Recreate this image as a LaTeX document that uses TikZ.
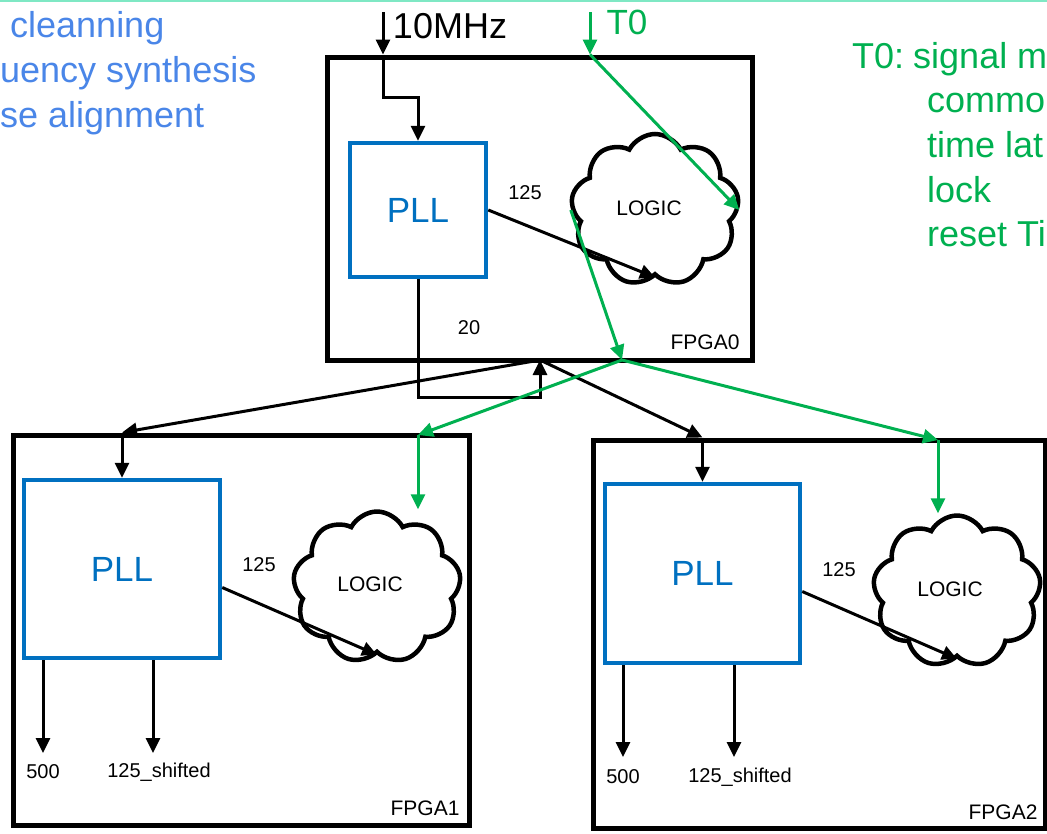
\documentclass[tikz,border=0pt]{standalone}
\usepackage{fontspec}
\setmainfont{Liberation Sans}
\usetikzlibrary{shapes.symbols,arrows.meta,calc}
\definecolor{noteblue}{HTML}{4A86E8}
\definecolor{pllblue}{HTML}{0070C0}
\definecolor{tgreen}{HTML}{00B050}
\definecolor{topline}{HTML}{7FE8C4}
\tikzset{
  fpga/.style={draw=black, line width=5pt, minimum width=#1, inner sep=0pt},
  pllbox/.style={draw=pllblue, line width=4.5pt, text=pllblue, inner sep=0pt, font=\fontsize{35}{40}\selectfont},
  logic/.style={cloud, cloud puffs=9, cloud puff arc=125, cloud ignores aspect, draw=black, line width=4.5pt, minimum width=168pt, minimum height=152pt, inner sep=0pt},
  arr/.style={draw=black, line width=3pt, -{Triangle[length=15pt,width=14pt]}},
  garr/.style={draw=tgreen, line width=3pt, -{Triangle[length=15pt,width=14pt]}},
  small/.style={font=\fontsize{20}{24}\selectfont, inner sep=0pt},
  lbl/.style={font=\fontsize{21}{24}\selectfont, inner sep=0pt},
  note/.style={font=\fontsize{36}{44}\selectfont, inner sep=0pt, anchor=base west},
}
\begin{document}
\begin{tikzpicture}[x=1pt,y=-1pt]
\useasboundingbox (0,0) rectangle (1047,833);
\clip (0,0) rectangle (1047,833);
\draw[topline, line width=2pt] (0,1) -- (1047,1);

% notes
\node[note, text=noteblue] (n1) at (10,37) {cleanning};
\node[note, text=noteblue] (n2) at (0,82) {uency synthesis};
\node[note, text=noteblue] (n3) at (0,127) {se alignment};
\node[note, text=tgreen] (m1) at (852,68) {T0:\kern0.25em signal m};
\node[note, text=tgreen] (m2) at (927,112) {commo};
\node[note, text=tgreen] (m3) at (927,157) {time lat};
\node[note, text=tgreen] (m4) at (927,202) {lock};
\node[note, text=tgreen] (m5) at (927,246) {reset Ti};

% FPGA0
\node[fpga=425pt, minimum height=303pt] (f0) at (539.5,208.5) {};
\node[pllbox, minimum width=136pt, minimum height=134pt] (p0) at (418,210) {PLL};
\node[logic] (c0) at (655,210) {};
\node[lbl] (lg0) at (649,208) {LOGIC};
\node[lbl] (fl0) at (705,342) {FPGA0};
\node[small] (q0) at (525,193) {125};
\node[small] (z0) at (469,328) {20};

% FPGA1
\node[fpga=456pt, minimum height=390pt] (f1) at (241,630) {};
\node[pllbox, minimum width=196pt, minimum height=178pt] (p1) at (122,569) {PLL};
\node[logic] (c1) at (377,587.5) {};
\node[lbl] (lg1) at (370,584) {LOGIC};
\node[lbl] (fl1) at (425,808) {FPGA1};
\node[small] (q1) at (259,565) {125};
\node[small] (u1) at (43,772) {500};
\node[small] (s1) at (159,772) {125\_shifted};

% FPGA2
\node[fpga=452pt, minimum height=388pt] (f2) at (819,634) {};
\node[pllbox, minimum width=195pt, minimum height=179pt] (p2) at (702.5,573.5) {PLL};
\node[logic] (c2) at (957,591.5) {};
\node[lbl] (lg2) at (950,589) {LOGIC};
\node[lbl] (fl2) at (1003,812) {FPGA2};
\node[small] (q2) at (839,570) {125};
\node[small] (u2) at (623,777) {500};
\node[small] (s2) at (740,777) {125\_shifted};

% top inputs
\node[font=\fontsize{36}{40}\selectfont, inner sep=0pt] (mhz) at (450,26) {10MHz};
\node[font=\fontsize{35}{40}\selectfont, text=tgreen, inner sep=0pt] (t0l) at (627,22) {T0};
\coordinate (a10) at (383,12);
\coordinate (t0) at (590,12);
\draw[arr] (a10) -- (a10 |- f0.north);
\draw[arr] (a10 |- f0.north) -- ++(0,43) -| (p0.north);
\draw[garr] (t0) -- (t0 |- f0.north);
\draw[garr] (t0 |- f0.north) -- (c0.east);

% FPGA0 internals
\draw[arr] (p0.east) -- (c0.south);
\coordinate (j0) at (540,360);
\coordinate (g0) at (622,360);
\draw[arr] (p0.south) -- ++(0,118) -| (j0);
\draw[garr] (c0.west) -- (g0);

% distribution
\coordinate (g1) at (418,435);
\coordinate (g2) at (938,440);
\draw[arr] (j0) -- (p1.north |- f1.north);
\draw[arr] (j0) -- (p2.north |- f2.north);
\draw[arr] (p1.north |- f1.north) -- (p1.north);
\draw[arr] (p2.north |- f2.north) -- (p2.north);
\draw[garr] (g0) -- (g1);
\draw[garr] (g0) -- (g2);
\draw[garr] (g1) -- (g1 |- c1.north);
\draw[garr] (g2) -- (g2 |- c2.north);

% FPGA1/2 internals
\draw[arr] (p1.east |- c1) -- (c1.south);
\draw[arr] (p2.east |- c2) -- (c2.south);
\coordinate (o1a) at (43,753);
\coordinate (o1b) at (153,753);
\coordinate (o2a) at (623,757);
\coordinate (o2b) at (734,757);
\draw[arr] (o1a |- p1.south) -- (o1a);
\draw[arr] (o1b |- p1.south) -- (o1b);
\draw[arr] (o2a |- p2.south) -- (o2a);
\draw[arr] (o2b |- p2.south) -- (o2b);
\end{tikzpicture}
\end{document}
